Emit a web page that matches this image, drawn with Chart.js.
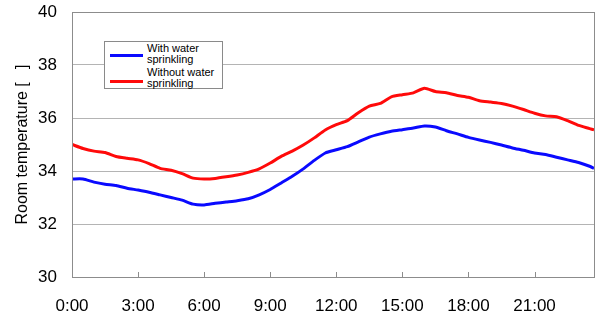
<!DOCTYPE html>
<html>
<head>
<meta charset="utf-8">
<script src="https://cdn.jsdelivr.net/npm/chart.js@4.4.1/dist/chart.umd.min.js"></script>
<style>
  html, body { margin: 0; padding: 0; background: #fff; }
  #wrap { position: relative; width: 599px; height: 320px; }
  #legend {
    position: absolute; left: 104px; top: 41px; width: 119px; height: 48px;
    border: 1px solid #8a8a8a; background: #fff; box-sizing: border-box;
    font-family: "Liberation Sans", Arial, sans-serif; font-size: 11px; line-height: 11px; color: #000;
  }
  #legend .row { position: absolute; left: 42px; white-space: nowrap; }
  #legend .sw { position: absolute; left: 5px; width: 33px; height: 3px; }
</style>
</head>
<body>
<div id="wrap">
  <canvas id="c" width="599" height="320"></canvas>
  <div id="legend"></div>
</div>
<script>
// ---- data ----
const hours = [0,0.5,1,1.5,2,2.5,3,3.5,4,4.5,5,5.5,6,6.5,7,7.5,8,8.5,9,9.5,10,10.5,11,11.5,12,12.5,13,13.5,14,14.5,15,15.5,16,16.5,17,17.5,18,18.5,19,19.5,20,20.5,21,21.5,22,22.5,23,23.5,23.7];
const withSprinkling = [33.70,33.70,33.58,33.50,33.45,33.35,33.28,33.20,33.10,33.00,32.90,32.75,32.72,32.78,32.83,32.88,32.95,33.10,33.30,33.55,33.80,34.08,34.40,34.68,34.80,34.92,35.10,35.28,35.40,35.50,35.56,35.62,35.70,35.66,35.52,35.40,35.27,35.17,35.08,34.98,34.87,34.78,34.68,34.62,34.52,34.42,34.32,34.18,34.10];
const withoutSprinkling = [35.00,34.85,34.75,34.70,34.55,34.48,34.42,34.28,34.10,34.03,33.90,33.73,33.70,33.72,33.78,33.85,33.95,34.08,34.30,34.55,34.75,34.98,35.25,35.55,35.75,35.90,36.20,36.45,36.55,36.80,36.88,36.95,37.12,37.00,36.95,36.85,36.78,36.65,36.60,36.55,36.45,36.32,36.18,36.08,36.05,35.90,35.72,35.60,35.55];
const xTickValues = [0,3,6,9,12,15,18,21];
const xTickLabels = ["0:00","3:00","6:00","9:00","12:00","15:00","18:00","21:00"];
const yTickValues = [30,32,34,36,38,40];
const seriesNames = [["With water","sprinkling"],["Without water","sprinkling"]];
const seriesColors = ["#0a0aff","#ff0a0a"];
const yTitle = "Room temperature [   ]";

// ---- build ----
const toXY = (vals) => hours.map((h, i) => ({x: h, y: vals[i]}));
const FONT = "'Liberation Sans', Arial, sans-serif";

const frame = {
  id: 'frame',
  afterDraw(chart) {
    const {ctx, chartArea: a, scales} = chart;
    ctx.save();
    ctx.strokeStyle = '#8c8c8c';
    ctx.lineWidth = 1;
    ctx.strokeRect(Math.round(a.left) + 0.5, Math.round(a.top) + 0.5, Math.round(a.right - a.left), Math.round(a.bottom - a.top));
    ctx.beginPath();
    xTickValues.forEach(v => {
      if (v === 0) return;
      const px = Math.round(scales.x.getPixelForValue(v)) + 0.5;
      ctx.moveTo(px, a.bottom);
      ctx.lineTo(px, a.bottom - 5);
    });
    ctx.stroke();
    ctx.restore();
  }
};

new Chart(document.getElementById('c'), {
  type: 'line',
  data: {
    datasets: [
      {label: seriesNames[0].join(' '), data: toXY(withSprinkling), borderColor: seriesColors[0], borderWidth: 3, pointRadius: 0, tension: 0.2, fill: false},
      {label: seriesNames[1].join(' '), data: toXY(withoutSprinkling), borderColor: seriesColors[1], borderWidth: 3, pointRadius: 0, tension: 0.2, fill: false}
    ]
  },
  options: {
    responsive: false,
    animation: false,
    events: [],
    layout: {padding: {left: 0, right: 5, top: 12, bottom: 0}},
    plugins: {legend: {display: false}, tooltip: {enabled: false}},
    scales: {
      x: {
        type: 'linear', min: 0, max: 23.7,
        afterBuildTicks: (s) => { s.ticks = xTickValues.map(v => ({value: v})); },
        afterFit: (s) => { s.height = 43; s.paddingLeft = 0; s.paddingRight = 0; },
        ticks: {
          autoSkip: false, maxRotation: 0, padding: 19, color: '#000',
          font: {family: FONT, size: 17},
          callback: (v) => { const i = xTickValues.indexOf(v); return i >= 0 ? xTickLabels[i] : ''; }
        },
        grid: {display: false, drawTicks: false},
        border: {display: false}
      },
      y: {
        min: 30, max: 40,
        afterBuildTicks: (s) => { s.ticks = yTickValues.map(v => ({value: v})); },
        afterFit: (s) => { s.width = 72; s.paddingTop = 0; s.paddingBottom = 0; },
        ticks: {padding: 15, color: '#000', font: {family: FONT, size: 17}},
        grid: {color: '#b4b4b4', lineWidth: 1, drawTicks: false},
        border: {display: false},
        title: {display: true, text: yTitle, color: '#000', font: {family: FONT, size: 16}, padding: {top: 13, bottom: 0}}
      }
    }
  },
  plugins: [frame]
});

// legend overlay
const lg = document.getElementById('legend');
const rowTops = [1, 25];
const swTops = [12, 38];
seriesNames.forEach((lines, i) => {
  const sw = document.createElement('div');
  sw.className = 'sw';
  sw.style.top = swTops[i] + 'px';
  sw.style.background = seriesColors[i];
  lg.appendChild(sw);
  const t = document.createElement('div');
  t.className = 'row';
  t.style.top = rowTops[i] + 'px';
  t.innerHTML = lines.join('<br>');
  lg.appendChild(t);
});
</script>
</body>
</html>
